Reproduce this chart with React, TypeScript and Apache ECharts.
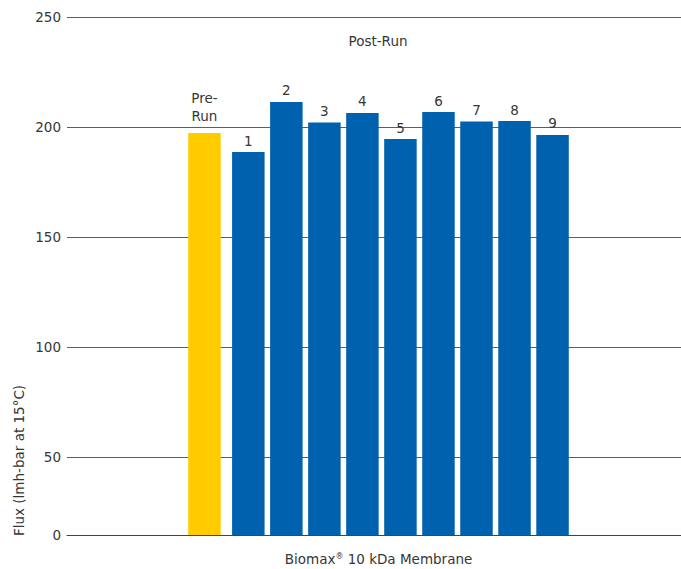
import React, { useEffect, useRef } from "react";
import * as echarts from "echarts";

const categories = ["Biomax® 10 kDa Membrane"];
const preRunName = "Pre-Run";
const preRunValues = [197.3];
const postRunNames = ["1", "2", "3", "4", "5", "6", "7", "8", "9"];
const postRunValues = [188.6, 211.4, 202.0, 206.4, 194.5, 206.8, 202.5, 202.7, 196.4];
const yAxisMin = 14.5;
const yAxisMax = 250;
const yTickValues = [14.5, 50, 100, 150, 200, 250];
const yTickLabels = ["0", "50", "100", "150", "200", "250"];
const groupTitle = "Post-Run";
const yTitle = "Flux (lmh-bar at 15°C)";

const FONT = "DejaVu Sans, Verdana, sans-serif";
const FS = 13.5;
const TEXT = "#363636";
const YELLOW = "#FFCC00";
const BLUE = "#0062AE";

export default function App() {
  const ref = useRef<HTMLDivElement>(null);

  useEffect(() => {
    if (!ref.current) return;
    const chart = echarts.init(ref.current, undefined, { renderer: "svg" });

    const barCommon = {
      type: "bar" as const,
      barWidth: 32.5,
      barGap: "17%",
      label: {
        show: true,
        position: "top" as const,
        distance: 5,
        color: TEXT,
        fontSize: FS,
        fontFamily: FONT,
        lineHeight: 13,
      },
    };

    const series: any[] = [
      {
        ...barCommon,
        name: preRunName,
        data: preRunValues,
        itemStyle: { color: YELLOW },
        label: {
          ...barCommon.label,
          distance: 8,
          lineHeight: 18,
          formatter: () => "Pre-\nRun",
        },
      },
      {
        type: "bar",
        name: "spacer",
        barWidth: 5,
        data: ["-"],
        silent: true,
        label: { show: false },
      },
      ...postRunNames.map((n, i) => ({
        ...barCommon,
        name: n,
        data: [postRunValues[i]],
        itemStyle: { color: BLUE },
        label: { ...barCommon.label, formatter: () => n },
      })),
    ];

    chart.setOption({
      animation: false,
      textStyle: { fontFamily: FONT },
      grid: {
        left: 67,
        width: 623,
        top: 17,
        height: 518,
        containLabel: false,
        outerBoundsMode: "none",
      },
      xAxis: {
        type: "category",
        data: categories,
        axisLine: { show: true, lineStyle: { color: "#444", width: 1 } },
        axisTick: { show: false },
        axisLabel: {
          margin: 17,
          color: TEXT,
          fontSize: FS,
          fontFamily: FONT,
          formatter: (v: string) => {
            const parts = v.split("®");
            return parts.length > 1
              ? `{a|${parts[0]}}{s|®}{a|${parts[1]}}`
              : `{a|${v}}`;
          },
          rich: {
            a: { fontSize: FS, color: TEXT, fontFamily: FONT, verticalAlign: "bottom" },
            s: { fontSize: 8, color: TEXT, fontFamily: FONT, verticalAlign: "top", padding: [0, 0, 6, 0] },
          },
        },
      },
      yAxis: {
        type: "value",
        min: yAxisMin,
        max: yAxisMax,
        axisLine: { show: false },
        axisTick: { show: false, customValues: yTickValues },
        splitLine: { show: true, lineStyle: { color: "#5e5e5e", width: 1 } },
        axisLabel: {
          customValues: yTickValues,
          margin: 6,
          color: TEXT,
          fontSize: FS,
          fontFamily: FONT,
          formatter: (v: number) => {
            const idx = yTickValues.indexOf(v);
            return idx >= 0 ? yTickLabels[idx] : "";
          },
        },
      },
      graphic: [
        {
          type: "text",
          x: 378,
          y: 41,
          style: {
            text: groupTitle,
            fill: TEXT,
            fontSize: FS,
            fontFamily: FONT,
            textAlign: "center",
            textVerticalAlign: "middle",
          },
        },
        {
          type: "text",
          x: 19,
          y: 536,
          rotation: Math.PI / 2,
          style: {
            text: yTitle,
            fill: TEXT,
            fontSize: FS,
            fontFamily: FONT,
            textAlign: "left",
            textVerticalAlign: "middle",
          },
        },
      ],
      series,
    });

    return () => chart.dispose();
  }, []);

  return <div ref={ref} style={{ width: 681, height: 569, position: "absolute", left: 0, top: 0 }} />;
}
